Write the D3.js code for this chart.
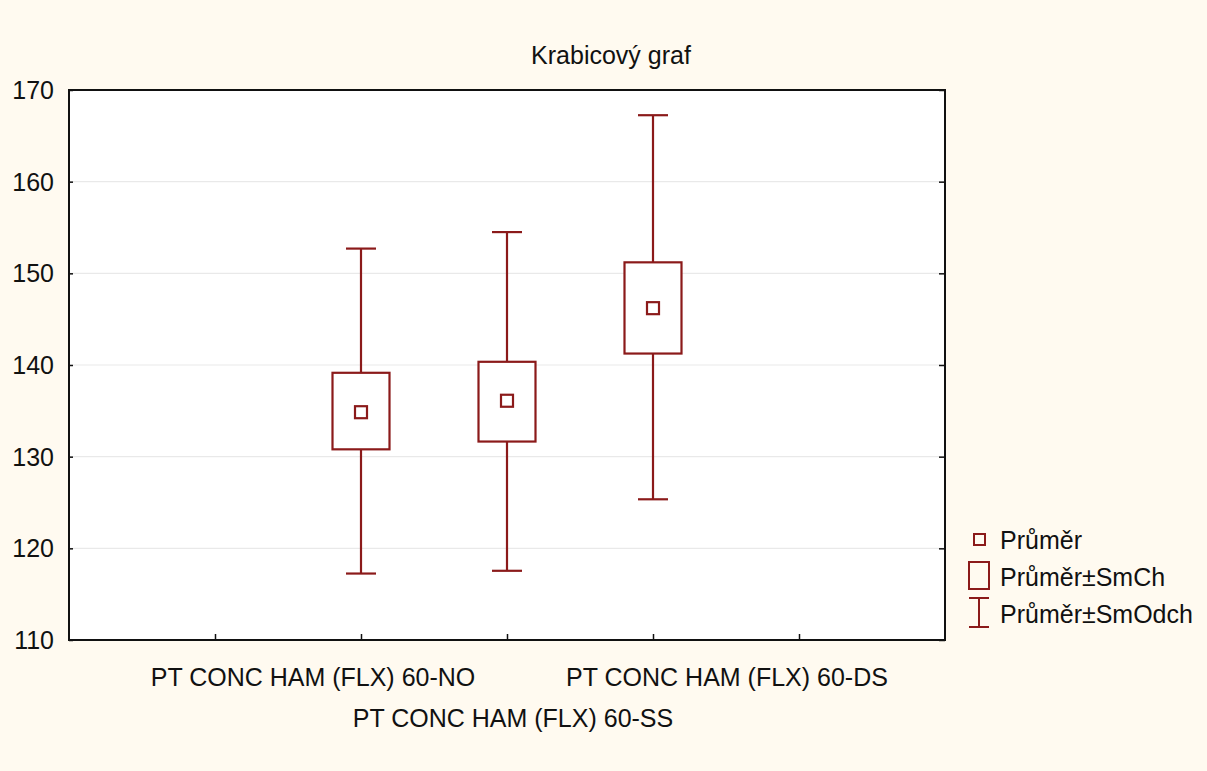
<!DOCTYPE html>
<html>
<head>
<meta charset="utf-8">
<script src="https://cdn.jsdelivr.net/npm/d3@7"></script>
<style>
html,body{margin:0;padding:0;background:#fffaf0;}
svg{display:block;}
text{font-family:"Liberation Sans",Arial,sans-serif;fill:#111;}
</style>
</head>
<body>
<svg id="chart" width="1207" height="771"></svg>
<script>
// ---- data ----
const categories = ["PT CONC HAM (FLX) 60-NO", "PT CONC HAM (FLX) 60-SS", "PT CONC HAM (FLX) 60-DS"];
const means = [134.85, 136.1, 146.2];
const seLow = [130.8, 131.65, 141.25];
const seHigh = [139.15, 140.35, 151.2];
const sdLow = [117.25, 117.55, 125.35];
const sdHigh = [152.7, 154.5, 167.25];
const yTicks = [110, 120, 130, 140, 150, 160, 170];
const title = "Krabicový graf";
const legendLabels = ["Průměr", "Průměr±SmCh", "Průměr±SmOdch"];

// ---- layout ----
const W = 1207, H = 771;
const L = 69, R = 945, T = 90, B = 640;
const FS = 25;
const col = "#8b1a1a";
const svg = d3.select("#chart");
svg.append("rect").attr("width", W).attr("height", H).attr("fill", "#fffaf0");

const x = d3.scaleLinear().domain([0, 6]).range([L, R]);
const catPos = i => i + 2;
const y = d3.scaleLinear().domain([110, 170]).range([B, T]);

// plot background
svg.append("rect").attr("x", L).attr("y", T).attr("width", R - L).attr("height", B - T).attr("fill", "#fff");

// gridlines
svg.append("g").selectAll("line").data(yTicks.filter(v => v > 110 && v < 170)).join("line")
  .attr("x1", L).attr("x2", R).attr("y1", d => y(d)).attr("y2", d => y(d))
  .attr("stroke", "#e9e9e9").attr("stroke-width", 1.2);

// left axis (inward ticks)
const gy = svg.append("g").attr("transform", `translate(${L},0)`)
  .call(d3.axisRight(y).tickValues(yTicks).tickSize(4).tickFormat(""));
gy.select(".domain").remove();
gy.selectAll(".tick line").attr("stroke", "#111").attr("stroke-width", 1.5);
svg.append("g").selectAll("text").data(yTicks).join("text")
  .attr("x", L - 15).attr("y", d => y(d)).attr("dy", "0.36em")
  .attr("text-anchor", "end").attr("font-size", FS).text(d => d);

// right axis inward ticks
const gr = svg.append("g").attr("transform", `translate(${R},0)`)
  .call(d3.axisLeft(y).tickValues(yTicks).tickSize(6).tickFormat(""));
gr.select(".domain").remove();
gr.selectAll(".tick line").attr("stroke", "#111").attr("stroke-width", 1.5);

// bottom axis inward ticks
const gx = svg.append("g").attr("transform", `translate(0,${B})`)
  .call(d3.axisTop(x).tickValues([1, 2, 3, 4, 5]).tickSize(6).tickFormat(""));
gx.select(".domain").remove();
gx.selectAll(".tick line").attr("stroke", "#111").attr("stroke-width", 1.5);

// border
svg.append("rect").attr("x", L).attr("y", T).attr("width", R - L).attr("height", B - T)
  .attr("fill", "none").attr("stroke", "#111").attr("stroke-width", 2);

// category labels (staggered as in original)
const labelDx = [-48, 6, 74];
const labelY = [686, 727, 686];
svg.append("g").selectAll("text").data(categories).join("text")
  .attr("x", (d, i) => x(catPos(i)) + labelDx[i]).attr("y", (d, i) => labelY[i])
  .attr("text-anchor", "middle").attr("font-size", FS)
  .text(d => d);

// title
svg.append("text").attr("x", 611).attr("y", 64).attr("text-anchor", "middle")
  .attr("font-size", FS).text(title);

// boxes
const boxW = 57, capW = 30, mW = 12;
const g = svg.append("g").attr("stroke", col).attr("fill", "none").attr("stroke-width", 2.2);
categories.forEach((c, i) => {
  const cx = x(catPos(i));
  g.append("line").attr("x1", cx).attr("x2", cx).attr("y1", y(sdHigh[i])).attr("y2", y(seHigh[i]));
  g.append("line").attr("x1", cx).attr("x2", cx).attr("y1", y(seLow[i])).attr("y2", y(sdLow[i]));
  g.append("line").attr("x1", cx - capW / 2).attr("x2", cx + capW / 2).attr("y1", y(sdHigh[i])).attr("y2", y(sdHigh[i]));
  g.append("line").attr("x1", cx - capW / 2).attr("x2", cx + capW / 2).attr("y1", y(sdLow[i])).attr("y2", y(sdLow[i]));
  g.append("rect").attr("x", cx - boxW / 2).attr("y", y(seHigh[i])).attr("width", boxW)
    .attr("height", y(seLow[i]) - y(seHigh[i])).attr("fill", "#fff");
  g.append("rect").attr("x", cx - mW / 2).attr("y", y(means[i]) - mW / 2).attr("width", mW).attr("height", mW);
});

// legend
const lg = svg.append("g");
const lgs = lg.append("g").attr("stroke", col).attr("fill", "none").attr("stroke-width", 2);
lgs.append("rect").attr("x", 974).attr("y", 534).attr("width", 11).attr("height", 11);
lgs.append("rect").attr("x", 969).attr("y", 562).attr("width", 20).attr("height", 27);
lgs.append("line").attr("x1", 969).attr("x2", 989).attr("y1", 598).attr("y2", 598);
lgs.append("line").attr("x1", 969).attr("x2", 989).attr("y1", 627).attr("y2", 627);
lgs.append("line").attr("x1", 979).attr("x2", 979).attr("y1", 598).attr("y2", 627);
lg.selectAll("text").data(legendLabels).join("text")
  .attr("x", 1000).attr("y", (d, i) => 549 + i * 37).attr("font-size", FS).text(d => d);
</script>
</body>
</html>
